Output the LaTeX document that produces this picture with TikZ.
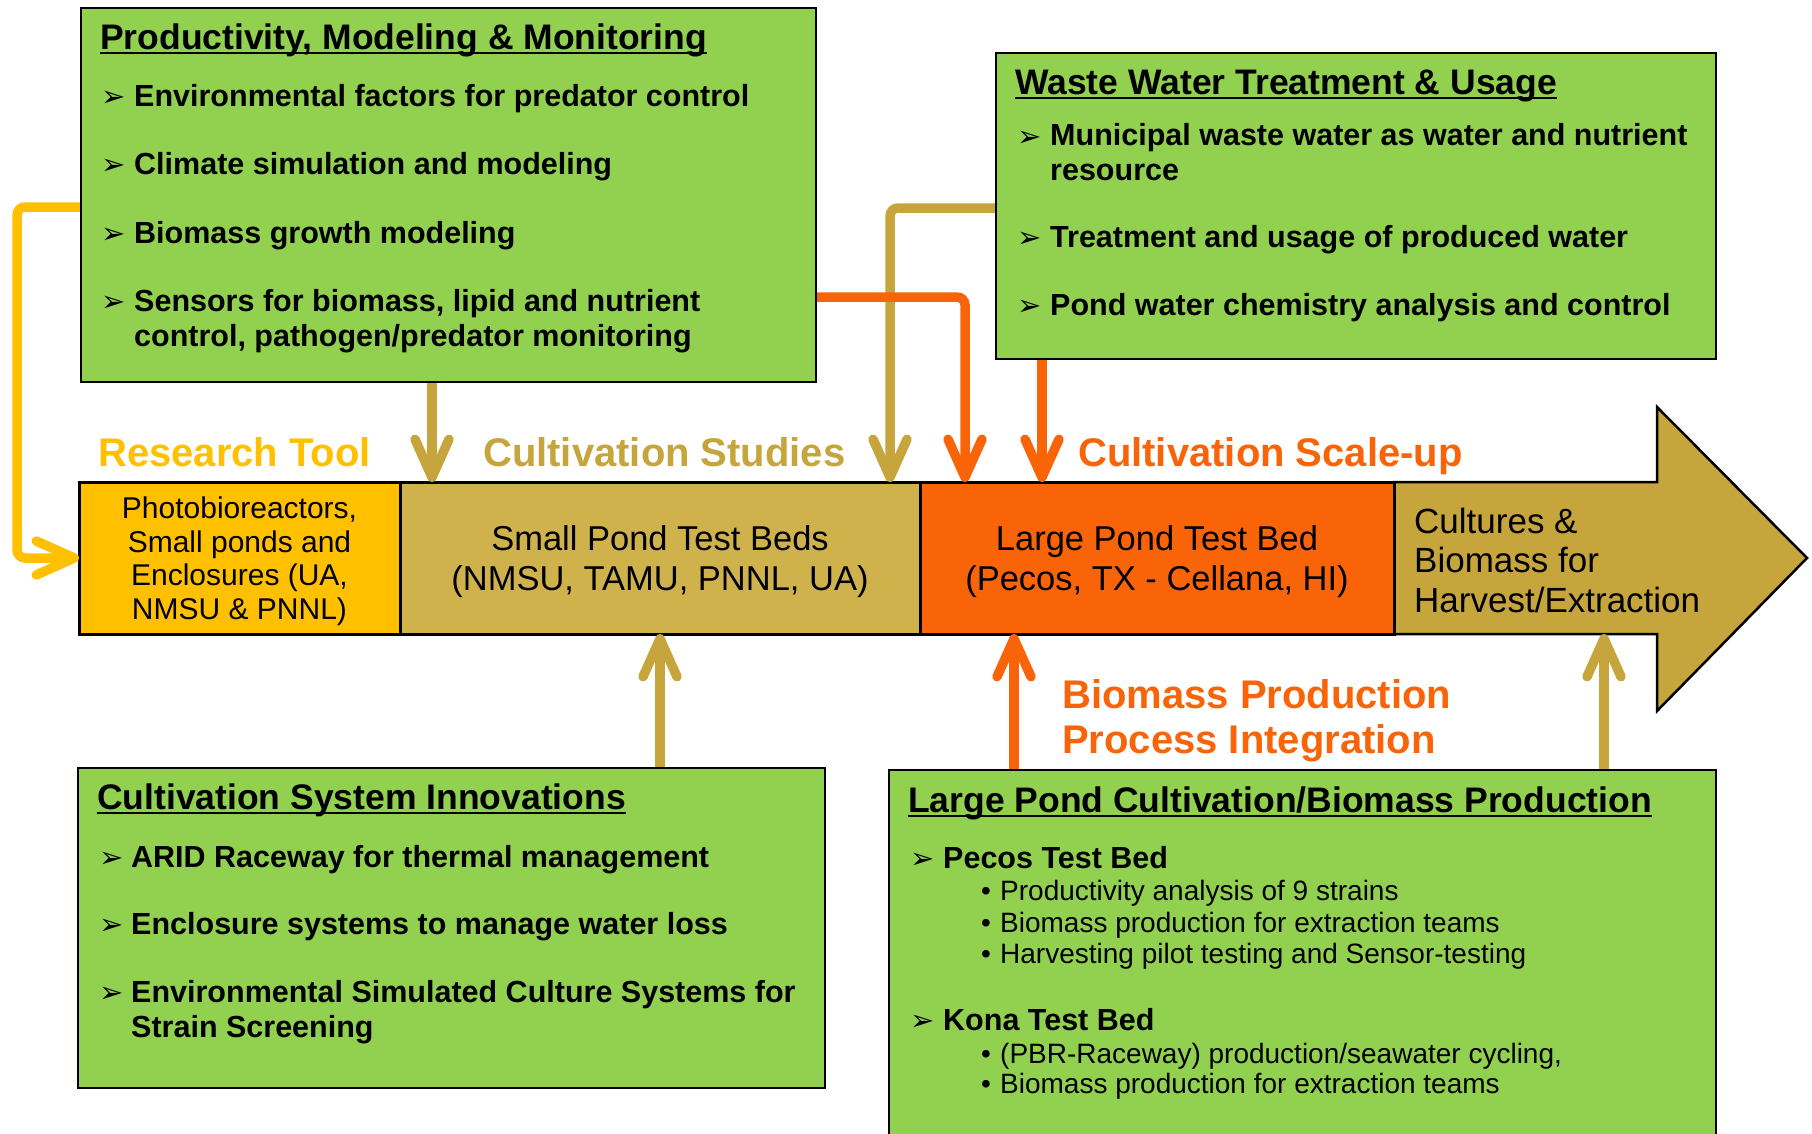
\documentclass[tikz,border=0pt]{standalone}
\usepackage{fontspec}
\setmainfont{Liberation Sans}
\newfontfamily\dingfont{DejaVu Sans}
\usetikzlibrary{arrows.meta}

\definecolor{boxgreen}{HTML}{92D050}
\definecolor{ryellow}{HTML}{FFC000}
\definecolor{rtan}{HTML}{CFB24B}
\definecolor{rolive}{HTML}{C5A53C}
\definecolor{rorange}{HTML}{F96409}

\begin{document}
\begin{tikzpicture}
	[x=1pt,y=-1pt,
	 greenbox/.style={draw=black,line width=2.5pt,fill=boxgreen,anchor=north west,inner sep=0pt,outer sep=0pt},
	 stage/.style={draw=black,line width=3pt,inner sep=0pt,outer sep=0pt,minimum height=152pt,align=center,text depth=0pt,font=\fontsize{34.5}{40}\selectfont},
	 headline/.style={font=\fontsize{35.5}{40}\selectfont\bfseries,anchor=base west,inner sep=0pt},
	 item/.style={font=\fontsize{30.5}{35}\selectfont\bfseries,anchor=base west,inner sep=0pt,align=left},
	 subitem/.style={font=\fontsize{28}{32}\selectfont,anchor=base west,inner sep=0pt},
	 bulletmark/.style={font=\fontsize{29}{32}\dingfont,anchor=base west,inner sep=0pt},
	 stagelabel/.style={font=\fontsize{40}{45}\selectfont\bfseries,anchor=base west,inner sep=0pt,align=left},
	 underline/.style={line width=2.2pt},
	 feed/.style={line width=9.5pt,rounded corners=8pt,-{Straight Barb[length=38pt,width=34pt,round]}}]

	\useasboundingbox (0,0) rectangle (1812,1133);

	% main flow
	\draw[line width=2.5pt,fill=rolive] (1394,482) -- (1657,482) -- (1657,407) -- (1807,558)
		-- (1657,711) -- (1657,634) -- (1394,634) -- cycle;
	\node[stage,fill=ryellow,minimum width=321pt,font=\fontsize{30}{33.7}\selectfont] (tool) at (239.5,558)
		{Photobioreactors,\\Small ponds and\\Enclosures (UA,\\NMSU \& PNNL)};
	\node[stage,fill=rtan,minimum width=520pt] (small) at (660,558) {Small Pond Test Beds\\(NMSU, TAMU, PNNL, UA)};
	\node[stage,fill=rorange,minimum width=474pt] (large) at (1157,558) {Large Pond Test Bed\\(Pecos, TX - Cellana, HI)};
	\node[anchor=west,align=left,inner sep=0pt,font=\fontsize{35}{39.5}\selectfont] (harvest) at (1414,560)
		{Cultures \&\\Biomass for\\Harvest/Extraction};

	\node[stagelabel,text=ryellow] (lbltool) at (98,466) {Research Tool};
	\node[stagelabel,text=rolive] (lblstudies) at (483,466) {Cultivation Studies};
	\node[stagelabel,text=rorange] (lblscale) at (1078,466) {Cultivation Scale-up};
	\node[stagelabel,text=rorange] (lblbiomass) at (1062,753) {Biomass Production\\Process Integration};

	% connectors
	\coordinate (pmmtool) at (17,207);
	\coordinate (pmmsmall) at (432,0);
	\coordinate (wwtsmall) at (890,208);
	\coordinate (pmmlarge) at (965,297);
	\coordinate (wwtlarge) at (1042,0);
	\coordinate (lpclarge) at (1014,0);
	\coordinate (lpcharvest) at (1604,634);

	\draw[feed,draw=ryellow] (pmmtool -| 81,0) -- (pmmtool) |- (tool.west);
	\draw[feed,draw=rolive] (pmmsmall |- 0,382) -- (pmmsmall |- small.north);
	\draw[feed,draw=rolive] (wwtsmall -| 996,0) -- (wwtsmall) -- (wwtsmall |- small.north);
	\draw[feed,draw=rorange] (pmmlarge -| 816,0) -- (pmmlarge) -- (pmmlarge |- large.north);
	\draw[feed,draw=rorange] (wwtlarge |- 0,359) -- (wwtlarge |- large.north);
	\draw[feed,draw=rolive] (small.south |- 0,768) -- (small.south);
	\draw[feed,draw=rorange] (lpclarge |- 0,770) -- (lpclarge |- large.south);
	\draw[feed,draw=rolive] (lpcharvest |- 0,770) -- (lpcharvest);

	% boxes
	\node[greenbox,minimum width=735pt,minimum height=374pt] (pmm) at (81,8) {};
	\node[greenbox,minimum width=720pt,minimum height=306pt] (wwt) at (996,53) {};
	\node[greenbox,minimum width=747pt,minimum height=320pt] (csi) at (78,768) {};
	\node[greenbox,minimum width=827pt,minimum height=370pt] (lpc) at (889,770) {};

	\node[headline] (pmmhead) at (100,49) {Productivity, Modeling \& Monitoring};
	\draw[underline] ([yshift=-4pt]pmmhead.base west) -- ([yshift=-4pt]pmmhead.base east);
	\foreach \y in {106,174,243,311} \node[bulletmark] (pb\y) at (101,\y) {➢};
	\node[item] (pmm1) at (134,106) {Environmental factors for predator control};
	\node[item] (pmm2) at (134,174) {Climate simulation and modeling};
	\node[item] (pmm3) at (134,243) {Biomass growth modeling};
	\node[item] (pmm4) at (134,346) {Sensors for biomass, lipid and nutrient\\control, pathogen/predator monitoring};

	\node[headline] (wwthead) at (1015,94) {Waste Water Treatment \& Usage};
	\draw[underline] ([yshift=-4pt]wwthead.base west) -- ([yshift=-4pt]wwthead.base east);
	\foreach \y in {146,247,315} \node[bulletmark] (wb\y) at (1017,\y) {➢};
	\node[item] (wwt1) at (1050,180) {Municipal waste water as water and nutrient\\resource};
	\node[item] (wwt2) at (1050,247) {Treatment and usage of produced water};
	\node[item] (wwt3) at (1050,315) {Pond water chemistry analysis and control};

	\node[headline] (csihead) at (97,809) {Cultivation System Innovations};
	\draw[underline] ([yshift=-4pt]csihead.base west) -- ([yshift=-4pt]csihead.base east);
	\foreach \y in {867,934,1002} \node[bulletmark] (cb\y) at (99,\y) {➢};
	\node[item] (csi1) at (131,867) {ARID Raceway for thermal management};
	\node[item] (csi2) at (131,934) {Enclosure systems to manage water loss};
	\node[item] (csi3) at (131,1037) {Environmental Simulated Culture Systems for\\Strain Screening};

	\node[headline] (lpchead) at (908,812) {Large Pond Cultivation/Biomass Production};
	\draw[underline] ([yshift=-4pt]lpchead.base west) -- ([yshift=-4pt]lpchead.base east);
	\foreach \y in {868,1030} \node[bulletmark] (lb\y) at (910,\y) {➢};
	\node[item] (pecos) at (943,868) {Pecos Test Bed};
	\node[item] (kona) at (943,1030) {Kona Test Bed};
	\foreach \y in {900,932,963,1063,1093} \node[subitem] (ld\y) at (981,\y) {•};
	\node[subitem] (pecos1) at (1000,900) {Productivity analysis of 9 strains};
	\node[subitem] (pecos2) at (1000,932) {Biomass production for extraction teams};
	\node[subitem] (pecos3) at (1000,963) {Harvesting pilot testing and Sensor-testing};
	\node[subitem] (kona1) at (1000,1063) {(PBR-Raceway) production/seawater cycling,};
	\node[subitem] (kona2) at (1000,1093) {Biomass production for extraction teams};

\end{tikzpicture}
\end{document}
